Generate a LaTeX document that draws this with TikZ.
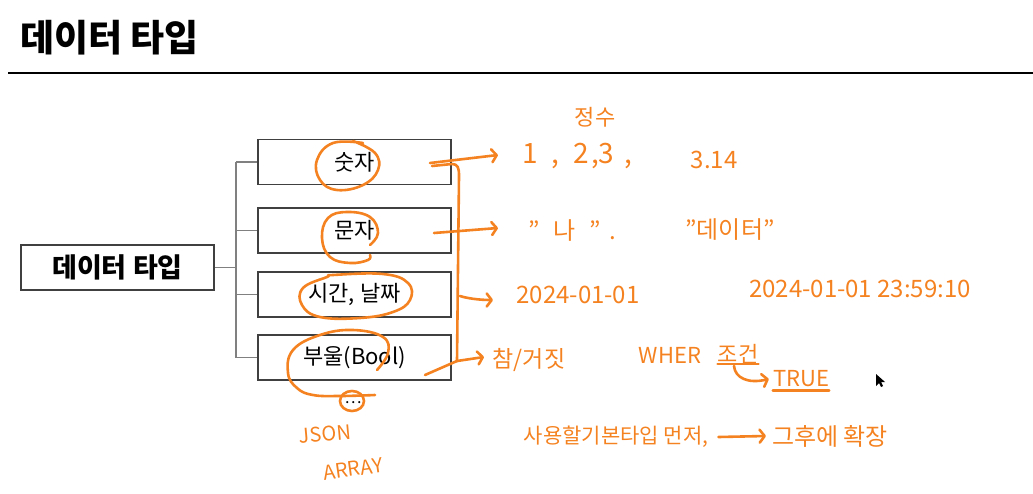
\documentclass[tikz,border=0pt]{standalone}
\usepackage{fontspec}
\setmainfont{Noto Sans CJK KR}
\usetikzlibrary{arrows.meta}
\definecolor{pen}{RGB}{245,130,32}
\definecolor{boxline}{RGB}{64,64,64}
\definecolor{treeline}{RGB}{128,128,128}
\tikzset{
  typebox/.style={draw=boxline, line width=1.3pt, minimum width=193pt, minimum height=45pt, inner sep=0pt, font=\fontsize{22}{26}\selectfont},
  rootbox/.style={typebox, font=\fontsize{27}{30}\selectfont\bfseries},
  tree/.style={draw=treeline, line width=1.3pt},
  ink/.style={draw=pen, line width=2.6pt, line cap=round, line join=round},
  hook/.style={ink, -{Straight Barb[length=5pt,width=13pt,round]}},
  inktext/.style={text=pen, inner sep=0pt, font=\fontsize{22}{26}\selectfont},
}
\begin{document}
\begin{tikzpicture}[x=1pt,y=-1pt]
\useasboundingbox (0,0) rectangle (1033,493);
% title
\node[anchor=west, inner sep=0pt, font=\fontsize{37}{42}\selectfont\bfseries] (title) at (20,38) {데이터 타입};
\coordinate (ruleL) at (8,73);
\coordinate (ruleR) at (1033,73);
\draw[line width=2pt] (ruleL) -- (ruleR);
% boxes
\node[rootbox] (root) at (117.5,267.5) {데이터 타입};
\node[typebox] (num) at (354.5,162) {숫자};
\node[typebox] (str) at (354.5,230.5) {문자};
\node[typebox] (time) at (354.5,294.5) {시간, 날짜};
\node[typebox] (bool) at (354.5,357.5) {부울(Bool)};
\node[inner sep=0pt, font=\fontsize{16}{18}\selectfont] (etc) at (353,403) {…};
% tree
\coordinate (tx) at (236,0);
\draw[tree] (root.east) -- (root.east -| tx);
\draw[tree] (num.west -| tx) -- (bool.west -| tx);
\draw[tree] (num.west -| tx) -- (num.west);
\draw[tree] (str.west -| tx) -- (str.west);
\draw[tree] (time.west -| tx) -- (time.west);
\draw[tree] (bool.west -| tx) -- (bool.west);
% circles
\draw[ink] plot[smooth, tension=0.7] coordinates {(363,143) (333,143) (317,160) (320,180) (337,190) (363,185) (378,170) (375,153) (353,141)};
\draw[ink] plot[smooth, tension=0.7] coordinates {(370,245) (378,233) (370,217) (347,212) (328,218) (322,238) (330,257) (350,263) (368,260) (370,255)};
\draw[ink] plot[smooth cycle, tension=0.7] coordinates {(333,275) (383,274) (408,283) (410,300) (393,312) (360,318) (320,317) (302,305) (303,288) (327,277)};
\draw[ink] plot[smooth, tension=0.7] coordinates {(377,370) (388,353) (383,337) (353,330) (320,335) (293,350) (288,373) (297,388) (313,395) (340,396) (375,395)};
\draw[ink] (352,401) ellipse [x radius=12, y radius=10];
% bracket and arrows
\coordinate (a1s) at (430,163);
\coordinate (a1e) at (498,155);
\coordinate (a2s) at (434,233);
\coordinate (a2e) at (498,228);
\coordinate (bt) at (459,176);
\coordinate (bm) at (460,296);
\coordinate (bb) at (457,361);
\coordinate (a3e) at (493,300);
\coordinate (a4e) at (484,357);
\coordinate (bs) at (425,375);
\draw[hook] (a1s) -- (a1e);
\draw[hook] (a2s) -- (a2e);
\draw[ink] (432,166) -- (452,164) .. controls (458,164) and (459,168) .. (bt) -- (bb);
\draw[hook] (bm) .. controls (466,298) and (478,300) .. (a3e);
\draw[hook] (bb) -- (a4e);
\draw[ink] (bs) -- (bb);
% annotations
\node[inktext] (t1) at (595,117) {정수};
\node[inktext, anchor=west, font=\fontsize{28}{32}\selectfont] (v1) at (522,156) {1\hspace{14pt},\hspace{14pt}2\hspace{2pt},3\hspace{10pt},};
\node[inktext, font=\fontsize{24}{28}\selectfont] (v1b) at (714,160) {3.14};
\node[inktext, anchor=west, font=\fontsize{24}{28}\selectfont] (v2) at (528,230) {"\hspace{14pt}나\hspace{14pt}"\hspace{8pt}.};
\node[inktext, font=\fontsize{24}{28}\selectfont] (v2b) at (730,230) {"데이터"};
\node[inktext, font=\fontsize{24}{28}\selectfont] (v3) at (578,295) {2024-01-01};
\node[inktext, font=\fontsize{24}{28}\selectfont] (v3b) at (860,289) {2024-01-01 23:59:10};
\node[inktext, font=\fontsize{23}{27}\selectfont] (v4) at (529,360) {참/거짓};
\node[inktext] (w1) at (670,355) {WHER};
\node[inktext] (w2) at (738,354) {조건};
\node[inktext] (w3) at (801,379) {TRUE};
\draw[ink] (w2.south west) -- (w2.south east);
\draw[ink] ([yshift=-3pt]w3.south west) -- ([yshift=-3pt]w3.south east);
\draw[hook] ([xshift=-4pt,yshift=-2pt]w2.south) .. controls ([xshift=-3pt,yshift=-14pt]w2.south) and (748,384) .. ([xshift=-4pt]w3.west);
\node[inktext, rotate=5, font=\fontsize{20}{24}\selectfont] (j1) at (325,434) {JSON};
\node[inktext, rotate=8, font=\fontsize{20}{24}\selectfont] (j2) at (353,469) {ARRAY};
\node[inktext, font=\fontsize{21}{25}\selectfont] (n1) at (616,437) {사용할기본타입 먼저,};
\node[inktext, font=\fontsize{24}{28}\selectfont] (n2) at (830,436) {그후에 확장};
\draw[hook] ([xshift=10pt]n1.east) -- ([xshift=-6pt]n2.west);
% cursor
\fill[black] (876,374) -- (876,386) -- (879,383) -- (881,387) -- (883,386) -- (881,382) -- (885,382) -- cycle;
\end{tikzpicture}
\end{document}
